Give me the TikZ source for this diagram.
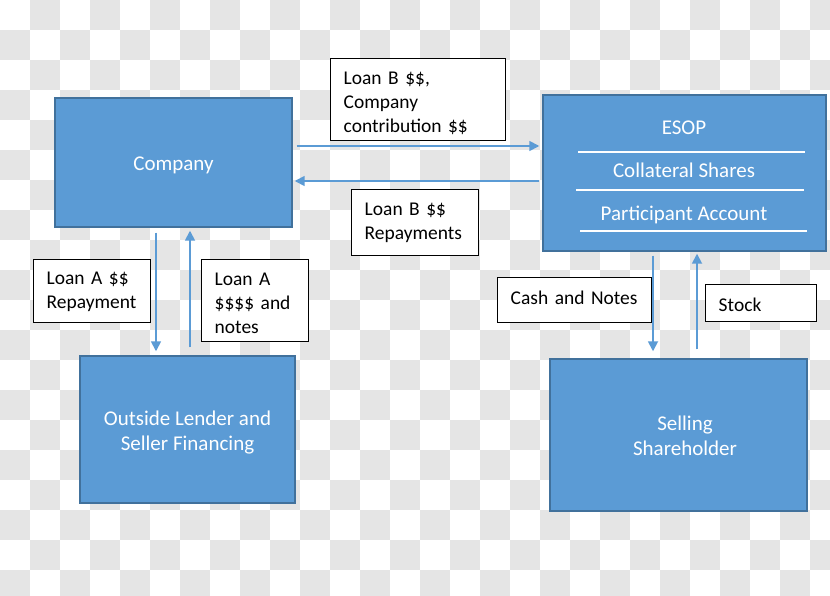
\documentclass[tikz,border=0pt]{standalone}
\usepackage{fontspec}
\setmainfont{Carlito}
\usetikzlibrary{arrows.meta,calc}
\definecolor{boxblue}{RGB}{91,155,213}
\definecolor{boxedge}{RGB}{65,113,156}
\definecolor{arrowblue}{RGB}{91,155,213}
\definecolor{checkgray}{RGB}{229,229,229}
\newcommand\mlines[2][0pt]{\raisebox{#1}[\height][\depth]{\begin{tabular}{@{}l@{}}#2\end{tabular}}}
\newcommand\mcent[2][0pt]{\raisebox{#1}[\height][\depth]{\begin{tabular}{@{}c@{}}#2\end{tabular}}}
\tikzset{
  bigbox/.style={draw=boxedge, line width=1.1pt, fill=boxblue, text=white,
    font=\fontsize{15.75}{18.75}\selectfont, inner sep=0pt},
  boxtext/.style={text=white, font=\fontsize{15.75}{18.75}\selectfont, inner sep=0pt},
  sepline/.style={draw=white, line width=0.9pt},
  lbl/.style={draw=black, line width=1.1pt, fill=white, anchor=north west,
    font=\fontsize{14.6}{18}\selectfont, inner xsep=9.75pt, inner ysep=0pt},
  flow/.style={draw=arrowblue, line width=1.3pt, -{Triangle[length=7.5pt,width=7.5pt]}}
}
\begin{document}
\begin{tikzpicture}[x=0.75pt,y=-0.75pt]
\useasboundingbox (0,0) rectangle (830,595);
\fill[white] (0,0) rectangle (830,595);
\begin{scope}
\clip (0,0) rectangle (830,595);
\foreach \i in {0,...,27}{
  \foreach \j in {0,...,19}{
    \pgfmathtruncatemacro\cpar{mod(\i+\j,2)}
    \ifnum\cpar=1 \fill[checkgray] (\i*30,\j*30) rectangle ++(30,30); \fi
  }
}
\end{scope}

% main boxes
\node[bigbox, minimum width=177.75pt, minimum height=96.75pt] (company) at (173.5,162.5) {\mcent[-2.25pt]{Company}};
\node[bigbox, minimum width=212.25pt, minimum height=117pt] (esop) at (684.5,173) {};
\node[bigbox, minimum width=161.25pt, minimum height=110.25pt] (lender) at (187.5,429.5) {\mcent[-2.25pt]{Outside Lender and\\Seller Financing}};
\node[bigbox, minimum width=192.75pt, minimum height=114pt] (seller) at (678.5,435) {};

\node[boxtext] (esoptitle) at (684,127.5) {ESOP};
\node[boxtext] (collat) at (684,170.5) {Collateral Shares};
\node[boxtext] (partic) at (684,214.5) {Participant Account};
\draw[sepline] (578,152) -- (805,152);
\draw[sepline] (576,190) -- (804,190);
\draw[sepline] (580,231) -- (807,231);
\node[boxtext] (sellertext) at (685,438) {\mcent{Selling\\Shareholder}};

% labels
\node[lbl, minimum width=131.25pt, minimum height=61.5pt, text width=111.75pt] (lbB) at (330,58) {\mlines[-3pt]{Loan B \$\$,\\Company\\contribution \$\$}};
\node[lbl, minimum width=95.25pt, minimum height=49.5pt, text width=75.75pt] (lbBr) at (351,189) {\mlines{Loan B \$\$\\Repayments}};
\node[lbl, minimum width=87.75pt, minimum height=47.25pt, text width=68.25pt] (lbAr) at (33,259) {\mlines{Loan A \$\$\\Repayment}};
\node[lbl, minimum width=80.25pt, minimum height=61.5pt, text width=60.75pt] (lbA) at (201,259) {\mlines[-3pt]{Loan A\\\$\$\$\$ and\\notes}};
\node[lbl, minimum width=115.5pt, minimum height=33.75pt, text width=96pt] (lbC) at (497,277) {\mlines[0.6pt]{Cash and Notes}};
\node[lbl, minimum width=83.25pt, minimum height=27.75pt, text width=63.75pt] (lbS) at (705,284) {\mlines[-2.25pt]{Stock}};

% connectors
\draw[flow] ($(company.east)+(4,-16.5)$) -- ($(esop.west)+(-3,-27)$);
\draw[flow] ($(esop.west)+(-3,8)$) -- ($(company.east)+(2,18.5)$);
\draw[flow] ($(company.south)+(-17.5,5)$) -- ($(lender.north)+(-31.5,-4)$);
\draw[flow] ($(lender.north)+(2.5,-8)$) -- ($(company.south)+(16.5,3)$);
\draw[flow] ($(esop.south)+(-31.5,4)$) -- ($(seller.north)+(-25.5,-7)$);
\draw[flow] ($(seller.north)+(18.5,-9)$) -- ($(esop.south)+(12.5,2)$);
\end{tikzpicture}
\end{document}
